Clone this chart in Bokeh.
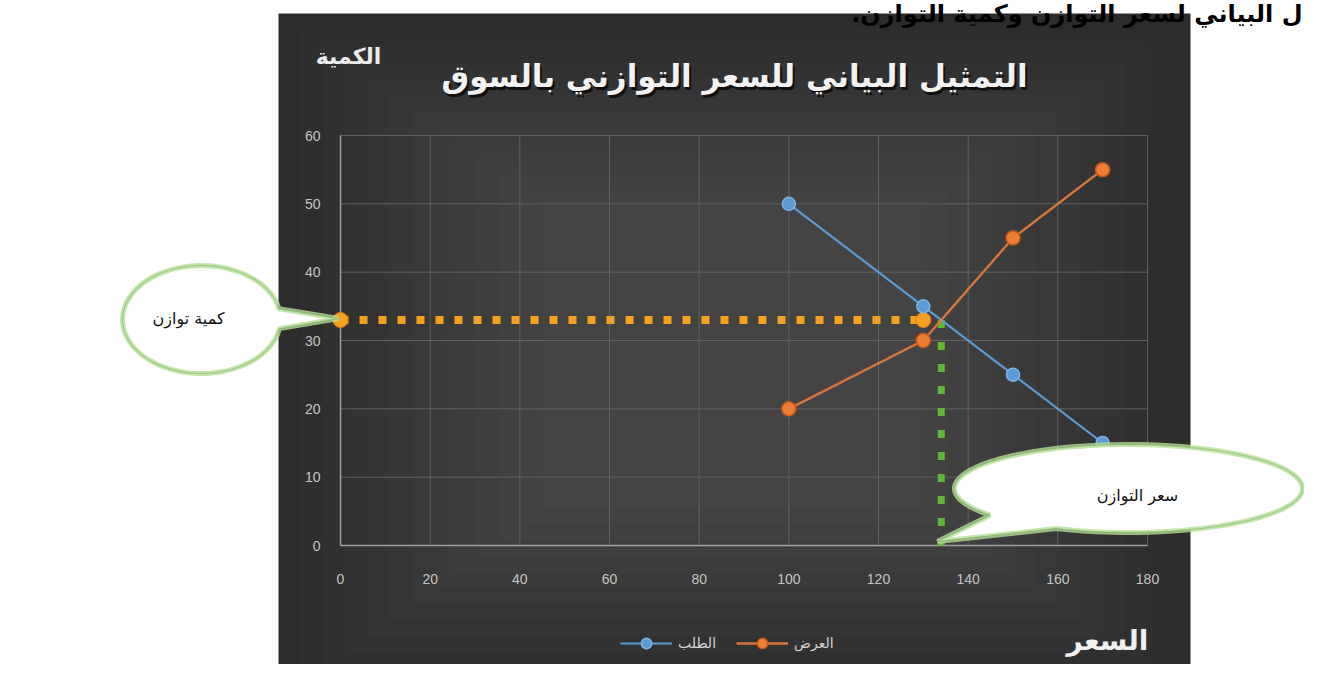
import numpy as np
from bokeh.plotting import figure
from bokeh.models import (Range1d, BoxAnnotation, PolyAnnotation,
                          Label, Legend, LegendItem)
from bokeh.embed import file_html
from bokeh.resources import INLINE

# ---------------- data ----------------
price = [100, 130, 150, 170]
demand = [50, 35, 25, 15]
supply = [20, 30, 45, 55]
eq_qty_x = [0, 130]
eq_qty_y = [33, 33]
eq_price_x = [134, 134]
eq_price_y = [33, 0]
x_ticks = [0, 20, 40, 60, 80, 100, 120, 140, 160, 180]
y_ticks = [0, 10, 20, 30, 40, 50, 60]
x_tick_labels = [str(v) for v in x_ticks]
y_tick_labels = [str(v) for v in y_ticks]

title_text = "التمثيل البياني للسعر التوازني بالسوق"
top_text = "ل البياني لسعر التوازن وكمية التوازن.\u200f"
y_label = "الكمية"
x_label = "السعر"
demand_label = "الطلب"
supply_label = "العرض"
qty_callout = "كمية توازن"
price_callout = "سعر التوازن"

# ---------------- layout helpers (canvas pixels -> data units) ----------------
FL, FR, FT, FB = 340, 1147, 135, 545   # plot-area edges in pixels
SX = (FR - FL) / 180.0
SY = (FB - FT) / 60.0
W, H = 1304, 664


def dx(px):
    return (px - FL) / SX


def dy(py):
    return (FB - py) / SY


p = figure(width=W, height=H,
           x_range=Range1d(dx(0), dx(W)), y_range=Range1d(dy(H), dy(0)),
           x_axis_type=None, y_axis_type=None,
           output_backend="svg", toolbar_location=None, min_border=0)
p.border_fill_color = "white"
p.background_fill_color = "white"
p.outline_line_color = None

X0, X1 = x_ticks[0], x_ticks[-1]
Y0, Y1 = y_ticks[0], y_ticks[-1]

# dark chart panel with a soft vignette
PL, PR, PT, PB = 278, 1190, 13, 700
p.add_layout(BoxAnnotation(left=dx(PL), right=dx(PR), top=dy(PT), bottom=dy(PB),
                           fill_color="#2c2c2c", fill_alpha=1.0, line_color=None,
                           level="image"))
for k in range(1, 13):
    p.add_layout(BoxAnnotation(left=dx(PL + 22 * k), right=dx(PR - 22 * k),
                               top=dy(PT + 16 * k), bottom=dy(PB - 16 * k),
                               fill_color="#ffffff", fill_alpha=0.011,
                               line_color=None, level="image"))

# grid lines (from the tick lists)
p.segment(x0=x_ticks, y0=[Y0] * len(x_ticks), x1=x_ticks, y1=[Y1] * len(x_ticks),
          line_color="#626262", line_width=1)
p.segment(x0=[X0] * len(y_ticks), y0=y_ticks, x1=[X1] * len(y_ticks), y1=y_ticks,
          line_color="#626262", line_width=1)
# axis lines
p.segment(x0=[X0, X0], y0=[Y0, Y0], x1=[X1, X0], y1=[Y0, Y1],
          line_color="#a0a0a0", line_width=1.5)
# tick labels
p.text(x=x_ticks, y=[Y0] * len(x_ticks), text=x_tick_labels, y_offset=33,
       text_align="center", text_baseline="middle", text_color="#c4c4c4",
       text_font_size="14px", text_font={"value": "Liberation Sans"})
p.text(x=[X0] * len(y_ticks), y=y_ticks, text=y_tick_labels, x_offset=-20,
       text_align="right", text_baseline="middle", text_color="#c4c4c4",
       text_font_size="14px", text_font={"value": "Liberation Sans"})

# equilibrium guide lines
p.line(eq_qty_x, eq_qty_y, line_color="#f5a020", line_width=8, line_dash="8 11")
p.scatter(eq_qty_x, eq_qty_y, size=15, fill_color="#f5a020", line_color="#e07f10")
p.line(eq_price_x, eq_price_y, line_color="#5fb832", line_width=7, line_dash="8 14")

# series
dl = p.line(price, demand, line_color="#5b9bd5", line_width=2.2)
ds = p.scatter(price, demand, size=13, fill_color="#5b9bd5", line_color="#7fb2e5",
               line_width=1.5)
sl = p.line(price, supply, line_color="#d9773a", line_width=2.4)
ss = p.scatter(price, supply, size=14, fill_color="#ed7d31", line_color="#c45a1a",
               line_width=1.5)

# legend
legend = Legend(items=[LegendItem(label=demand_label, renderers=[dl, ds]),
                       LegendItem(label=supply_label, renderers=[sl, ss])],
                orientation="horizontal", location=(620, H - 656),
                padding=0, margin=0, spacing=20, glyph_width=52, glyph_height=26,
                label_height=26, label_standoff=6,
                label_text_color="#d0d0d0", label_text_font_size="14px",
                label_text_font="DejaVu Sans",
                background_fill_alpha=0, border_line_alpha=0)
p.add_layout(legend)


# callouts
def callout(cx, cy, rx, ry, t0, t1, tip):
    t = np.linspace(t0, t1, 120)
    xs = [dx(cx + rx * np.cos(a)) for a in t] + [dx(tip[0])]
    ys = [dy(cy + ry * np.sin(a)) for a in t] + [dy(tip[1])]
    return xs, ys


for (cx, cy, rx, ry, t0, t1, tip) in [
        (201, 319, 79, 54, 0.17, 2 * np.pi - 0.2, (338, 318)),
        (1128, 488, 174, 44, 2.49, 2.0 + 2 * np.pi, (937, 541))]:
    xs, ys = callout(cx, cy, rx, ry, t0, t1, tip)
    p.add_layout(PolyAnnotation(xs=xs, ys=ys, fill_color="white", fill_alpha=1.0,
                                line_color="#b5e09a", line_width=5, line_alpha=0.8))
    p.add_layout(PolyAnnotation(xs=xs, ys=ys, fill_color="white", fill_alpha=0.0,
                                line_color="#4f8a35", line_width=1.3))


# texts
def lab(px, py, text, size, color, bold=False, align="center", font="DejaVu Sans"):
    p.add_layout(Label(x=dx(px), y=dy(py), text=text, text_align=align,
                       text_baseline="middle", text_font_size=size,
                       text_color=color, text_font=font,
                       text_font_style="bold" if bold else "normal"))


lab(736, 78, title_text, "31px", "#101010", bold=True)
lab(734, 75, title_text, "31px", "#f2f2f2", bold=True)
lab(348, 56, y_label, "22px", "#ececec", bold=True)
lab(1107, 640, x_label, "28px", "#f0f0f0", bold=True)
lab(188, 318, qty_callout, "16px", "#111111")
lab(1137, 495, price_callout, "16px", "#111111")
lab(1302, 13, top_text, "24px", "#000000", bold=True, align="right")

open("out.html", "w").write(file_html(p, INLINE))
